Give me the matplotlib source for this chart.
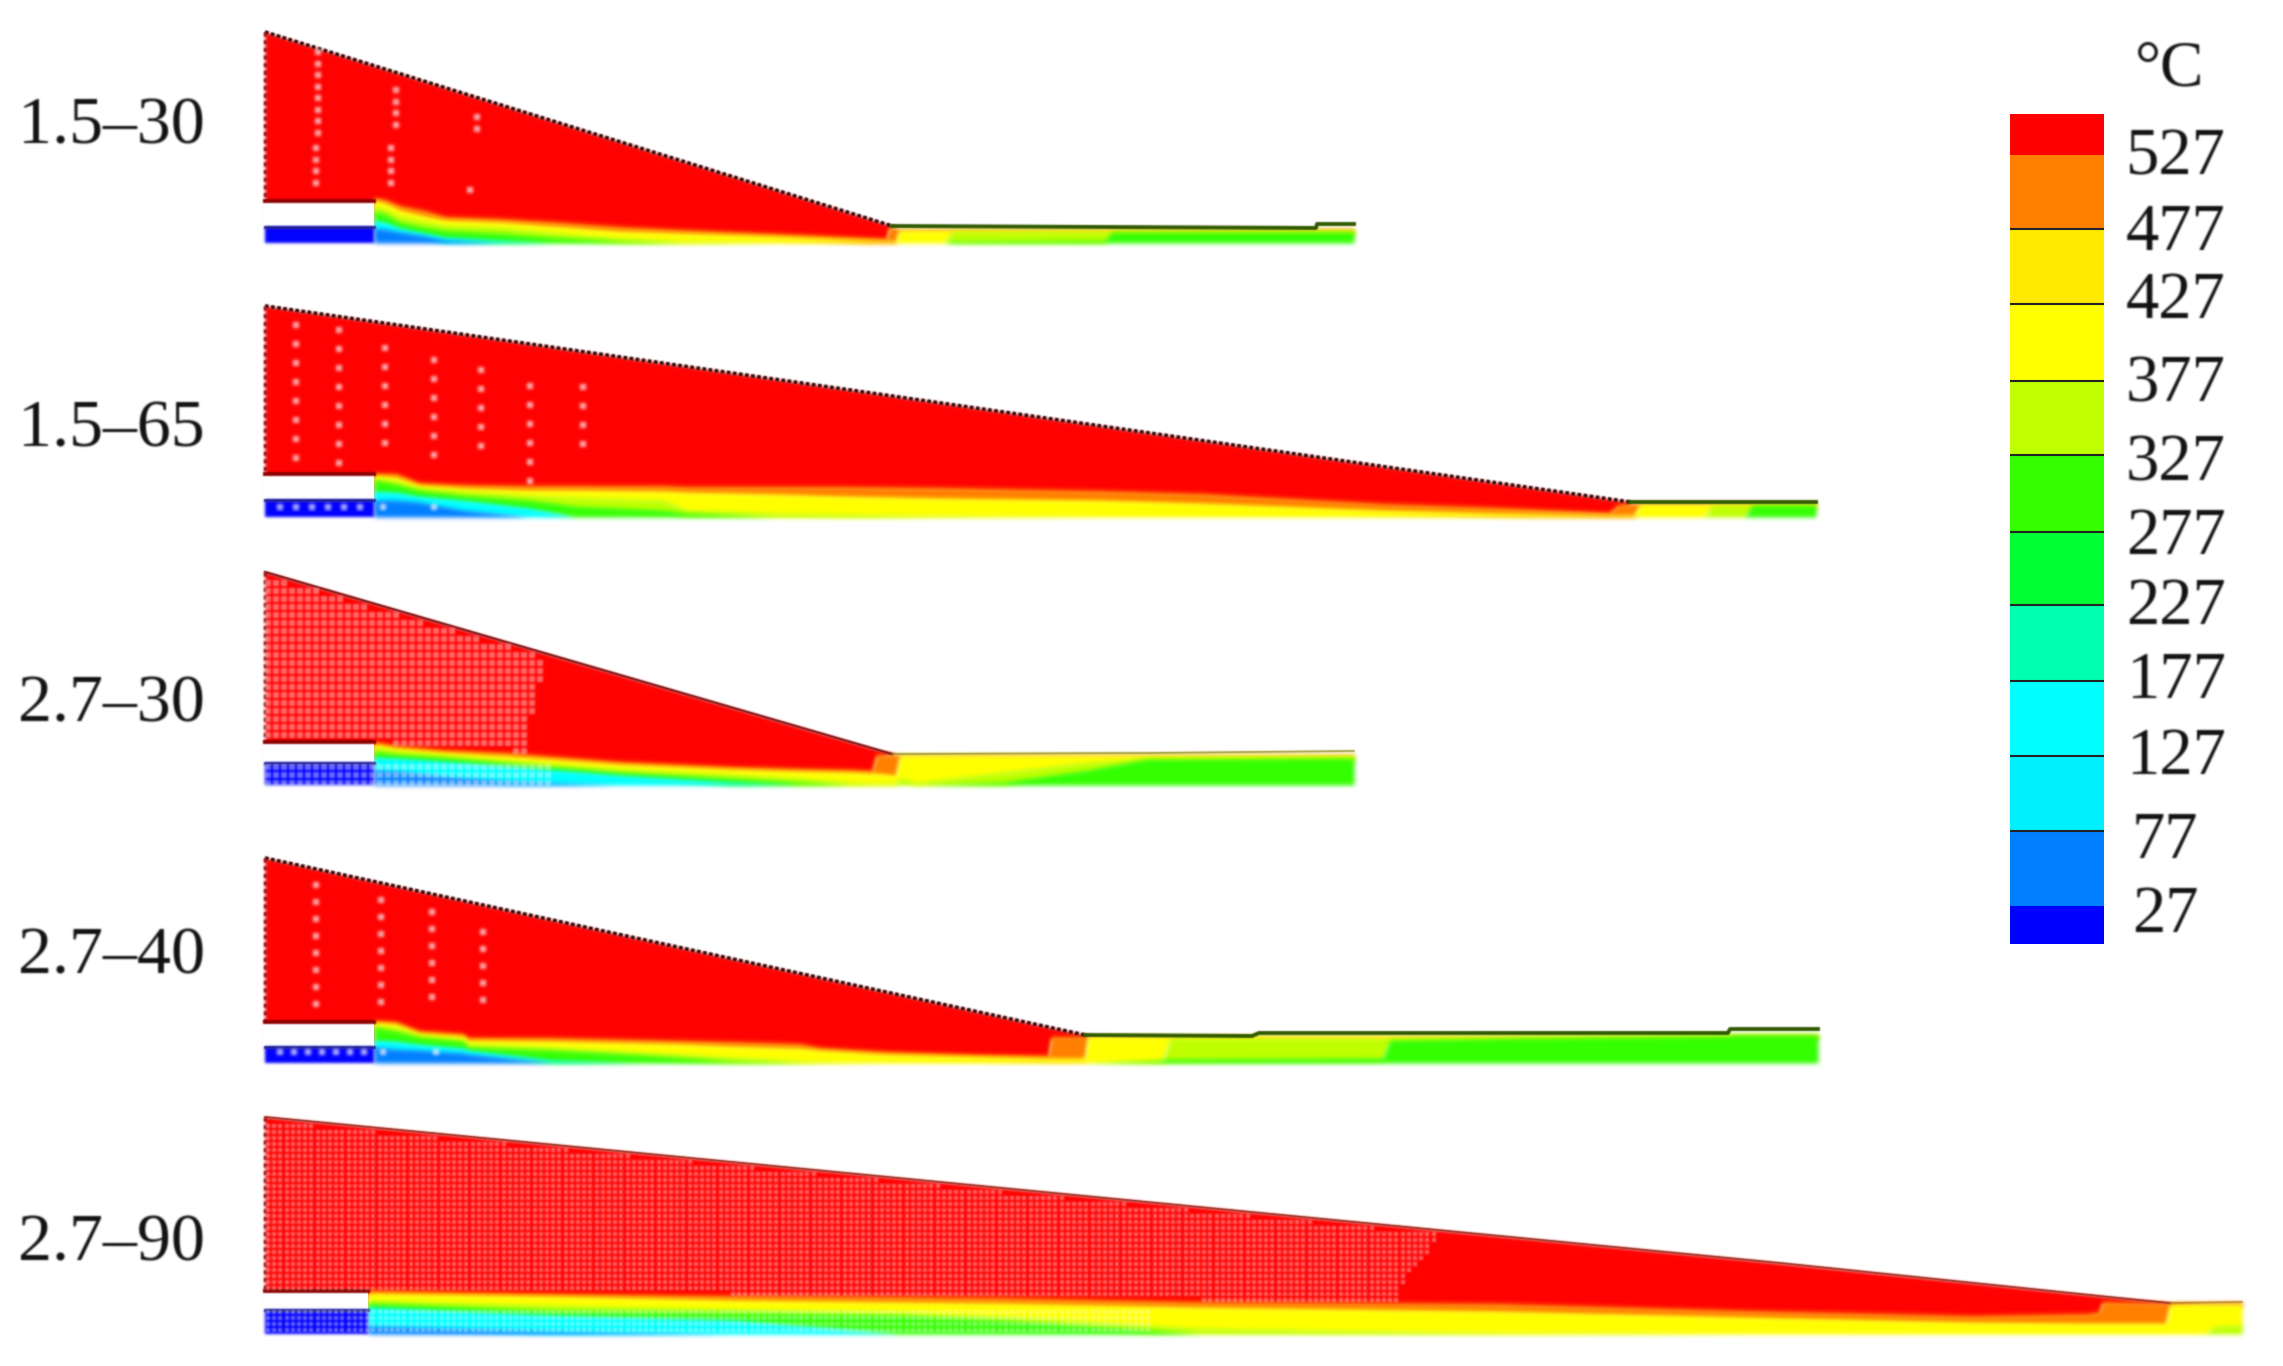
import numpy as np
import matplotlib
matplotlib.use('Agg')
import matplotlib.pyplot as plt
from matplotlib.colors import to_rgb

plt.rcParams['font.family'] = ['Liberation Serif', 'DejaVu Sans']

# colour key (pixel rows of the band edges)
key_edges = [114, 155, 229, 304, 381, 455, 532, 605, 681, 756, 831, 906, 944]
key_colors = ['#ff0000', '#ff7f00', '#ffea00', '#ffff00', '#bfff00', '#33ff00',
              '#00ff33', '#00ffb0', '#00ffff', '#00f0ff', '#007fff', '#0000ff']
key_labels = ['527', '477', '427', '377', '327', '277', '227', '177', '127', '77', '27']
key_label_y = [158, 233, 302, 385, 464, 538, 608, 682, 757, 841, 915]

row_labels = ['1.5–30', '1.5–65', '2.7–30', '2.7–40', '2.7–90']
row_label_y = [127, 430, 705, 957, 1244]

# panel 1
p1_top_x = [265, 892, 1316, 1317, 1354]
p1_top_y = [32, 226, 228, 224, 224]
p1_box = [201, 227, 243]
p1_x = [374, 385, 400, 425, 445, 500, 552, 620, 680, 775, 866, 886, 889, 896, 899, 945, 952, 1105, 1112, 1354]
p1_orange = [197, 199, 205, 210, 216, 218, 221, 226, 229, 233, 237, 238, 226, 228, 229, 229, 229, 229, 229, 229]
p1_yellow = [200, 203, 210, 216, 220, 222, 226, 231, 233, 236, 240, 241, 241, 241, 230, 230, 230, 230, 230, 230]
p1_lime = [206, 209, 216, 221, 225, 227, 232, 238, 241, 243, 243, 243, 243, 243, 243, 243, 231, 231, 231, 231]
p1_green = [211, 214, 222, 227, 230, 233, 237, 241, 243, 243, 243, 243, 243, 243, 243, 243, 241, 240, 232, 232]
p1_cyan = [220, 222, 228, 233, 237, 240, 243, 243, 243, 243, 243, 243, 243, 243, 243, 243, 243, 243, 243, 243]
p1_blue = [228, 229, 232, 236, 240, 243, 243, 243, 243, 243, 243, 243, 243, 243, 243, 243, 243, 243, 243, 243]

# panel 2
p2_top_x = [265, 1630, 1816]
p2_top_y = [306, 502, 502]
p2_box = [474, 500, 517]
p2_x = [374, 396, 419, 463, 530, 575, 664, 686, 776, 843, 940, 1100, 1203, 1385, 1500, 1609, 1618, 1626, 1634, 1640, 1705, 1712, 1745, 1752, 1816]
p2_orange = [473, 473, 482, 484, 485, 485, 485, 486, 486, 486, 487, 490, 493, 503, 507, 512, 504, 503, 503, 503, 503, 503, 503, 503, 503]
p2_yellow = [475, 477, 485, 488, 490, 490, 491, 492, 494, 496, 498, 500, 503, 510, 513, 515, 515, 515, 515, 504, 504, 504, 504, 504, 504]
p2_lime = [478, 481, 488, 491, 495, 497, 500, 510, 513, 514, 516, 517, 517, 517, 517, 517, 517, 517, 517, 517, 517, 505, 505, 505, 505]
p2_green = [480, 484, 490, 495, 500, 506, 510, 513, 517, 517, 517, 517, 517, 517, 517, 517, 517, 517, 517, 517, 517, 517, 517, 505, 505]
p2_cyan = [491, 492, 496, 500, 508, 517, 517, 517, 517, 517, 517, 517, 517, 517, 517, 517, 517, 517, 517, 517, 517, 517, 517, 517, 517]
p2_blue = [500, 500, 502, 510, 517, 517, 517, 517, 517, 517, 517, 517, 517, 517, 517, 517, 517, 517, 517, 517, 517, 517, 517, 517, 517]

# panel 3
p3_top_x = [265, 892, 1150, 1354]
p3_top_y = [572, 754, 753, 751]
p3_box = [742, 763, 785]
p3_x = [374, 396, 441, 508, 619, 731, 800, 850, 872, 876, 896, 900, 918, 1002, 1087, 1147, 1354]
p3_orange = [741, 745, 749, 752, 761, 766, 768, 769, 770, 754, 754, 755, 755, 755, 755, 755, 755]
p3_yellow = [744, 748, 752, 756, 764, 769, 771, 772, 773, 773, 775, 755, 755, 755, 755, 755, 755]
p3_lime = [748, 751, 755, 760, 769, 774, 778, 782, 783, 783, 783, 778, 782, 772, 762, 758, 757]
p3_green = [751, 754, 757, 763, 772, 778, 782, 785, 785, 785, 785, 785, 785, 782, 770, 759, 758]
p3_cyan = [757, 758, 761, 766, 775, 782, 785, 785, 785, 785, 785, 785, 785, 785, 785, 785, 785]
p3_blue = [770, 771, 776, 781, 785, 785, 785, 785, 785, 785, 785, 785, 785, 785, 785, 785, 785]

# panel 4
p4_top_x = [265, 1085, 1252, 1259, 1728, 1730, 1818]
p4_top_y = [858, 1035, 1036, 1033, 1033, 1029, 1029]
p4_box = [1022, 1047, 1063]
p4_x = [374, 396, 419, 463, 468, 552, 642, 686, 731, 800, 820, 887, 974, 1048, 1051, 1085, 1088, 1162, 1170, 1383, 1390, 1530, 1728, 1735, 1818]
p4_orange = [1020, 1021, 1030, 1033, 1037, 1037, 1039, 1040, 1041, 1043, 1047, 1051, 1054, 1055, 1036, 1036, 1036, 1036, 1036, 1036, 1036, 1036, 1036, 1036, 1036]
p4_yellow = [1022, 1024, 1033, 1036, 1040, 1041, 1043, 1044, 1046, 1048, 1050, 1054, 1056, 1058, 1058, 1058, 1036, 1036, 1036, 1036, 1036, 1036, 1036, 1036, 1036]
p4_lime = [1025, 1028, 1035, 1040, 1044, 1047, 1052, 1054, 1057, 1061, 1062, 1063, 1063, 1063, 1063, 1063, 1063, 1063, 1038, 1038, 1038, 1036, 1034, 1034, 1034]
p4_green = [1027, 1031, 1037, 1041, 1047, 1050, 1055, 1058, 1061, 1063, 1063, 1063, 1063, 1063, 1063, 1063, 1063, 1060, 1059, 1058, 1040, 1038, 1036, 1035, 1035]
p4_cyan = [1040, 1041, 1044, 1048, 1050, 1060, 1063, 1063, 1063, 1063, 1063, 1063, 1063, 1063, 1063, 1063, 1063, 1063, 1063, 1063, 1063, 1063, 1063, 1063, 1063]
p4_blue = [1047, 1049, 1050, 1053, 1054, 1063, 1063, 1063, 1063, 1063, 1063, 1063, 1063, 1063, 1063, 1063, 1063, 1063, 1063, 1063, 1063, 1063, 1063, 1063, 1063]

# panel 5
p5_top_x = [265, 1780, 2119, 2170, 2242]
p5_top_y = [1117, 1263, 1298, 1303, 1302]
p5_box = [1291, 1310, 1334]
p5_x = [368, 552, 731, 900, 1000, 1150, 1200, 1500, 1750, 1974, 2089, 2099, 2102, 2166, 2170, 2205, 2215, 2242]
p5_orange = [1290, 1293, 1295, 1296, 1297, 1300, 1301, 1303, 1310, 1315, 1313, 1311, 1301, 1302, 1302, 1302, 1302, 1302]
p5_yellow = [1293, 1296, 1300, 1302, 1303, 1306, 1307, 1311, 1317, 1322, 1323, 1323, 1323, 1323, 1304, 1304, 1304, 1304]
p5_lime = [1300, 1305, 1309, 1312, 1316, 1325, 1328, 1333, 1334, 1334, 1334, 1334, 1334, 1334, 1334, 1334, 1326, 1325]
p5_green = [1303, 1310, 1312, 1315, 1320, 1330, 1334, 1334, 1334, 1334, 1334, 1334, 1334, 1334, 1334, 1334, 1334, 1334]
p5_cyan = [1307, 1315, 1320, 1334, 1334, 1334, 1334, 1334, 1334, 1334, 1334, 1334, 1334, 1334, 1334, 1334, 1334, 1334]
p5_blue = [1326, 1331, 1334, 1334, 1334, 1334, 1334, 1334, 1334, 1334, 1334, 1334, 1334, 1334, 1334, 1334, 1334, 1334]

# visible mesh nodes in the coarse models: column x, first y, last y
p1_dot_x = [318, 316, 396, 391, 477, 470]
p1_dot_first = [52, 148, 90, 148, 117, 190]
p1_dot_last = [140, 193, 133, 187, 130, 190]
p2_dot_x = [296, 339, 385, 434, 481, 530, 583]
p2_dot_first = [325, 330, 348, 360, 370, 386, 387]
p2_dot_last = [463, 463, 460, 470, 463, 483, 445]
p4_dot_x = [316, 381, 432, 483]
p4_dot_first = [885, 900, 912, 932]
p4_dot_last = [1011, 1005, 1005, 1005]
p2_low_x = [280, 296, 312, 328, 344, 360, 383, 434]
p2_low_y = [507, 507, 507, 507, 507, 507, 507, 507]
p4_low_x = [280, 294, 308, 322, 336, 350, 364, 383, 436]
p4_low_y = [1052, 1052, 1052, 1052, 1052, 1052, 1052, 1052, 1052]

# right limit of the fine mesh in the refined models (row y, column x)
p3_mesh_y = [572, 640, 740]
p3_mesh_x = [550, 550, 525]
p5_mesh_y = [1117, 1235, 1289]
p5_mesh_x = [1441, 1441, 1398]


def soft(color, sigma=1.6):
    # blur the artist's coverage, the reference is an upscaled raster
    rgb = to_rgb(color)
    taps = np.arange(-4, 5)
    weights = np.exp(-taps**2 / (2 * sigma**2))
    weights = weights / weights.sum()

    def apply(im, dpi):
        pad = 5
        alpha = np.pad(im[:, :, 3], pad)
        for axis in (0, 1):
            alpha = sum(w * np.roll(alpha, int(t), axis=axis) for t, w in zip(taps, weights))
        out = np.zeros(alpha.shape + (4,))
        out[:, :, :3] = rgb
        out[:, :, 3] = alpha
        return out, -pad, -pad
    return apply


fig = plt.figure(figsize=(22.83, 13.66), dpi=100)
ax = fig.add_axes([0, 0, 1, 1])
ax.set_xlim(0, 2283)
ax.set_ylim(1366, 0)
ax.axis('off')

band_colors = ['#ff7f00', '#ffff00', '#bfff00', '#33ff00', '#00ffff', '#007fff']


def draw_panel(top_x, top_y, box, x, bands, box_right=374, edge='#2a0a0a', edge_lw=2.6,
               edge_ls=(0, (1.0, 0.7)), tail='#2e5a00', tail_lw=2.8, tip=1):
    box_top, box_low, bottom = box
    outer = np.interp(x, top_x, top_y)
    # red body stops just under the first band so it does not fringe the bottom edge
    red_x = np.concatenate(([top_x[0], x[0] - 1], x))
    red_top = np.interp(red_x, top_x, top_y)
    red_low = np.concatenate(([box_low, box_low], np.minimum(np.array(bands[0]) + 3, bottom - 3)))
    red_low = np.where(red_x > top_x[tip], red_top, red_low)
    red = ax.fill_between(red_x, red_top, red_low, color='#ff0000', lw=0)
    red.set_agg_filter(soft('#ff0000', 1.1))
    for i, (y, c) in enumerate(zip(bands, band_colors)):
        if i + 1 < len(bands):
            low = np.array(bands[i + 1], dtype=float) + 3
            low[np.array(bands[i + 1]) >= bottom] = bottom
            low = np.minimum(low, bottom)
        else:
            low = np.full(len(x), bottom)
        b = ax.fill_between(x, np.maximum(y, outer), low, color=c, lw=0)
        b.set_agg_filter(soft(c))
    ax.fill_between([263, box_right], box_top, box_low, color='white', lw=0, zorder=3)
    b = ax.fill_between([265, box_right], box_low, bottom, color='#0000ff', lw=0, zorder=3)
    b.set_agg_filter(soft('#0000ff', 1.1))
    line, = ax.plot(top_x[:tip + 1], top_y[:tip + 1], color=edge, lw=edge_lw, ls=edge_ls, zorder=4)
    line.set_agg_filter(soft(edge, 0.7))
    line, = ax.plot(top_x[tip:], top_y[tip:], color=tail, lw=tail_lw, zorder=4)
    line.set_agg_filter(soft(tail, 0.7))
    line, = ax.plot([265, 265], [top_y[0], box_top], color='#a01010', lw=2.5, ls=(0, (1.2, 1.0)), zorder=4)
    line.set_agg_filter(soft('#a01010', 0.8))
    line, = ax.plot([265, box_right], [box_top, box_top], color='#8b0000', lw=2.8, zorder=4)
    line.set_agg_filter(soft('#8b0000', 0.8))
    line, = ax.plot([265, box_right], [box_low, box_low], color='#202090', lw=2, zorder=4)
    line.set_agg_filter(soft('#202090', 0.8))


def draw_columns(dot_x, first, last, step, low_x=None, low_y=None):
    xs, ys = [], []
    for cx, a, b in zip(dot_x, first, last):
        col = np.arange(a, b + 1, step)
        xs.extend([cx] * len(col))
        ys.extend(col)
    if low_x is not None:
        xs.extend(low_x)
        ys.extend(low_y)
    s = ax.scatter(xs, ys, s=20, marker='s', color='white', alpha=0.72, lw=0, zorder=5)
    s.set_agg_filter(soft('white', 1.2))


def draw_mesh(top_x, top_y, box, x, orange, limit_y, limit_x, low_end, step_x, step_y, size, alpha):
    box_top, box_low, bottom = box
    gx, gy = np.meshgrid(np.arange(268, limit_x[0] + 1, step_x), np.arange(top_y[0] + 3, bottom, step_y))
    gx, gy = gx.ravel(), gy.ravel()
    edge = np.interp(gx, top_x, top_y)
    red_low = np.where(gx < x[0], box_top, np.interp(gx, x, orange))
    upper = (gy > edge + 4) & (gy < red_low - 1) & (gx < np.interp(gy, limit_y, limit_x))
    lower = (gy > box_low) & (gx < low_end)
    s = ax.scatter(gx[upper | lower], gy[upper | lower], s=size, marker='s', color='white', alpha=alpha, lw=0, zorder=5)
    s.set_agg_filter(soft('white', 0.8))


draw_panel(p1_top_x, p1_top_y, p1_box, p1_x, [p1_orange, p1_yellow, p1_lime, p1_green, p1_cyan, p1_blue])
draw_panel(p2_top_x, p2_top_y, p2_box, p2_x, [p2_orange, p2_yellow, p2_lime, p2_green, p2_cyan, p2_blue])
draw_panel(p3_top_x, p3_top_y, p3_box, p3_x, [p3_orange, p3_yellow, p3_lime, p3_green, p3_cyan, p3_blue],
           edge='#7a1010', edge_lw=1.6, edge_ls='-', tail='#8f8f20', tail_lw=1.2)
draw_panel(p4_top_x, p4_top_y, p4_box, p4_x, [p4_orange, p4_yellow, p4_lime, p4_green, p4_cyan, p4_blue])
draw_panel(p5_top_x, p5_top_y, p5_box, p5_x, [p5_orange, p5_yellow, p5_lime, p5_green, p5_cyan, p5_blue],
           box_right=368, edge='#8a2010', edge_lw=1.2, edge_ls='-', tail='#b08020', tail_lw=1.2, tip=3)

draw_columns(p1_dot_x, p1_dot_first, p1_dot_last, 11.5)
draw_columns(p2_dot_x, p2_dot_first, p2_dot_last, 19, p2_low_x, p2_low_y)
draw_columns(p4_dot_x, p4_dot_first, p4_dot_last, 17, p4_low_x, p4_low_y)
draw_mesh(p3_top_x, p3_top_y, p3_box, p3_x, p3_orange, p3_mesh_y, p3_mesh_x, 620, 8, 8, 22, 0.42)
draw_mesh(p5_top_x, p5_top_y, p5_box, p5_x, p5_orange, p5_mesh_y, p5_mesh_x, 1150, 6.2, 6, 12, 0.42)

# colour key
heights = np.diff(key_edges)
ax.bar(2057, heights, width=94, bottom=key_edges[:-1], color=key_colors, lw=0, zorder=3)
ax.hlines(key_edges[2:-2], 2010, 2104, color='#222222', lw=1.5, zorder=4)

for lab, y in zip(key_labels, key_label_y):
    t = ax.text(2126 if len(lab) == 3 else 2132, y, lab, fontsize=48, va='center', ha='left', color='#111111')
    t.set_agg_filter(soft('#111111', 0.9))
t = ax.text(2135, 70, '°C', fontsize=47, va='center', ha='left', color='#111111')
t.set_agg_filter(soft('#111111', 0.9))
for lab, y in zip(row_labels, row_label_y):
    t = ax.text(18, y, lab, fontsize=49, va='center', ha='left', color='#111111')
    t.set_agg_filter(soft('#111111', 0.9))

fig.savefig('out.png', dpi=100, facecolor='white')
